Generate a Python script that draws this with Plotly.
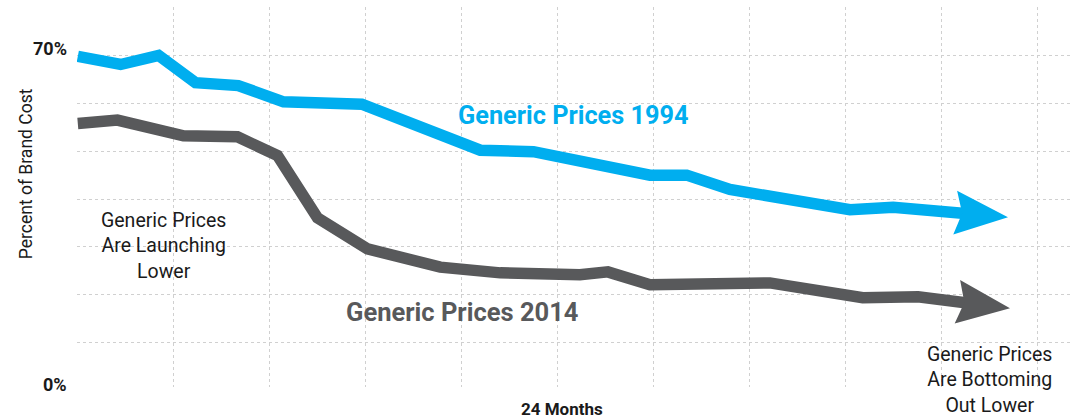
import math
import plotly.graph_objects as go

# ---------------- data ----------------
months_1994 = [0, 1.07, 2.02, 2.94, 4.01, 5.14, 7.10, 10.06, 11.39, 14.30, 15.22, 16.30, 19.30, 20.38]
prices_1994 = [69.8, 68.1, 70.0, 64.3, 63.7, 60.3, 59.8, 50.2, 49.9, 45.0, 45.0, 42.0, 37.8, 38.3]
arrow_tip_1994 = [23.25, 36.2]

months_2014 = [0, 0.99, 2.64, 3.99, 4.99, 5.99, 7.24, 9.06, 10.56, 11.88, 12.55, 13.25, 14.30, 17.30, 19.62, 21.00]
prices_2014 = [55.8, 56.5, 53.2, 53.0, 49.1, 36.1, 29.6, 25.8, 24.6, 24.4, 24.2, 24.8, 22.1, 22.5, 19.4, 19.6]
arrow_tip_2014 = [23.30, 17.2]

x_grid = [0, 2.4, 4.8, 7.2, 9.6, 12, 14.4, 16.8, 19.2, 21.6, 24]
y_grid = [10, 20, 30, 40, 50, 60, 70]
y_tick_labels = {70: "70%", 0: "0%"}

# ---------------- styling / layout ----------------
BLUE = "#00AEEF"
GRAY = "#58595B"
TEXT = "#1a1a1a"
GRID = "#d0d0d0"
FONT = "Roboto"
W, H = 1070, 419
ML, MR, MT, MB = 77, 0, 7, 32
XR = [-0.02, 24.8]
YR = [0.77, 80.1]
LW = 11.5

SX = (W - ML - MR) / (XR[1] - XR[0])
SY = (H - MT - MB) / (YR[1] - YR[0])


def arrow_geometry(prev, tip, L=53, Wd=22, N=7):
    dx = (tip[0] - prev[0]) * SX
    dy = (tip[1] - prev[1]) * SY
    n = math.hypot(dx, dy)
    ux, uy = dx / n, dy / n
    px, py = -uy, ux

    def pt(a, b):
        return (tip[0] + (-a * ux + b * px) / SX, tip[1] + (-a * uy + b * py) / SY)

    poly = [pt(0, 0), pt(L, Wd), pt(L - N, 0), pt(L, -Wd), pt(0, 0)]
    shaft_end = pt(L - N - 3, 0)
    return poly, shaft_end


fig = go.Figure()

for months, prices, tip, color in [
    (months_1994, prices_1994, arrow_tip_1994, BLUE),
    (months_2014, prices_2014, arrow_tip_2014, GRAY),
]:
    poly, shaft_end = arrow_geometry((months[-1], prices[-1]), tip)
    fig.add_trace(go.Scatter(
        x=months + [shaft_end[0]], y=prices + [shaft_end[1]],
        mode="lines", line=dict(color=color, width=LW),
        hoverinfo="skip", showlegend=False,
    ))
    fig.add_trace(go.Scatter(
        x=[p[0] for p in poly], y=[p[1] for p in poly],
        mode="lines", fill="toself", fillcolor=color,
        line=dict(color=color, width=0),
        hoverinfo="skip", showlegend=False,
    ))

annotations = []
PLOT_H = H - MT - MB
for val, lab in y_tick_labels.items():
    # value -> paper fraction (values below the visible range still get a label)
    frac = (val - YR[0]) / (YR[1] - YR[0])
    annotations.append(dict(
        text=f"<b>{lab}</b>", xref="paper", x=0, xanchor="right", xshift=-8,
        yref="paper", y=max(frac, 0), yanchor="middle",
        yshift=6.5 + min(frac, 0) * PLOT_H,
        showarrow=False,
        font=dict(family=FONT, size=18, color=TEXT),
    ))

annotations += [
    dict(text="Percent of Brand Cost", xref="paper", x=0, xshift=-51, xanchor="center",
         yref="y", y=45.2, yanchor="middle", textangle=-90, showarrow=False,
         font=dict(family=FONT, size=17.5, color=TEXT)),
    dict(text="<b>24 Months</b>", xref="x", x=12.1, xanchor="center",
         yref="paper", y=0, yanchor="middle", yshift=-22, showarrow=False,
         font=dict(family=FONT, size=17, color=TEXT)),
    dict(text="<b>Generic Prices 1994</b>", xref="x", x=12.38, yref="y", y=57.5,
         xanchor="center", yanchor="middle", showarrow=False,
         font=dict(family=FONT, size=25.3, color=BLUE)),
    dict(text="<b>Generic Prices 2014</b>", xref="x", x=9.6, yref="y", y=16.5,
         xanchor="center", yanchor="middle", showarrow=False,
         font=dict(family=FONT, size=25.5, color=GRAY)),
    dict(text="Generic Prices<br>Are Launching<br>Lower", xref="x", x=2.13, yref="y", y=30.3,
         xanchor="center", yanchor="middle", align="center", showarrow=False,
         font=dict(family=FONT, size=19.5, color=TEXT)),
    dict(text="Generic Prices<br>Are Bottoming<br>Out Lower", xref="x", x=22.8, yref="y", y=2.3,
         xanchor="center", yanchor="middle", align="center", showarrow=False,
         font=dict(family=FONT, size=19.5, color=TEXT)),
]

fig.update_layout(
    width=W, height=H,
    margin=dict(l=ML, r=MR, t=MT, b=MB),
    paper_bgcolor="white", plot_bgcolor="white",
    showlegend=False,
    annotations=annotations,
    xaxis=dict(range=XR, tickmode="array", tickvals=x_grid, showticklabels=False,
               showgrid=True, gridcolor=GRID, griddash="dot", gridwidth=1,
               zeroline=False, showline=False, ticks=""),
    yaxis=dict(range=YR, tickmode="array", tickvals=y_grid, showticklabels=False,
               showgrid=True, gridcolor=GRID, griddash="dot", gridwidth=1,
               zeroline=False, showline=False, ticks=""),
)

fig.write_html(
    "out.html",
    config={"displayModeBar": False},
    post_script="document.body.style.margin='0px';document.body.style.overflow='hidden';",
)
